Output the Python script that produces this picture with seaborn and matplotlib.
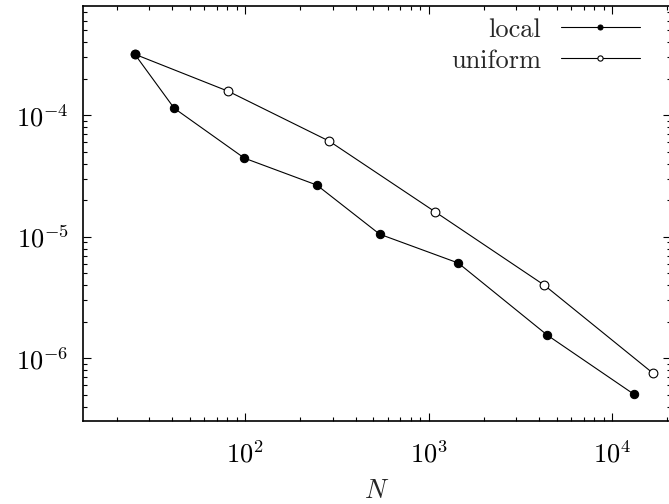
import matplotlib
matplotlib.use("Agg")
import matplotlib.pyplot as plt
import seaborn as sns
import pandas as pd
from matplotlib.ticker import LogLocator, NullFormatter

sns.set_style("ticks")
plt.rcParams.update({
    "font.family": "serif",
    "font.serif": ["cmr10", "DejaVu Serif"],
    "mathtext.fontset": "cm",
    "axes.formatter.use_mathtext": True,
    "axes.unicode_minus": False,
})

local_N = [25, 41, 99, 246, 541, 1452, 4446, 13120]
local_err = [3.17e-4, 1.14e-4, 4.43e-5, 2.66e-5, 1.05e-5, 6.08e-6, 1.55e-6, 5.09e-7]
uniform_N = [25, 81, 288, 1088, 4276, 16650]
uniform_err = [3.17e-4, 1.57e-4, 6.1e-5, 1.6e-5, 4.0e-6, 7.6e-7]

df_local = pd.DataFrame({"N": local_N, "err": local_err})
df_uni = pd.DataFrame({"N": uniform_N, "err": uniform_err})

fig = plt.figure(figsize=(6.69, 5.04), dpi=100)
ax = fig.add_axes([82.7/669, 1-420.7/504, (671-82.7)/669, (420.7-6)/504])

sns.lineplot(data=df_uni, x="N", y="err", ax=ax, sort=False, color="black",
             linewidth=0.8, marker="o", markersize=6.3, markerfacecolor="white",
             markeredgecolor="black", markeredgewidth=0.8, label="uniform")
sns.lineplot(data=df_local, x="N", y="err", ax=ax, sort=False, color="black",
             linewidth=0.8, marker="o", markersize=6, markerfacecolor="black",
             markeredgecolor="black", label="local")

ax.set_xscale("log")
ax.set_yscale("log")
ax.set_xlim(13, 21000)
ax.set_ylim(3.07e-7, 7.9e-4)

ax.xaxis.set_major_locator(LogLocator(base=10, numticks=10))
ax.xaxis.set_minor_locator(LogLocator(base=10, subs=range(2, 10), numticks=100))
ax.yaxis.set_major_locator(LogLocator(base=10, subs=[1.0], numticks=10))
ax.yaxis.set_minor_locator(LogLocator(base=10, subs=range(2, 10), numticks=100))
ax.xaxis.set_minor_formatter(NullFormatter())
ax.yaxis.set_minor_formatter(NullFormatter())
ax.set_yticks([1e-6, 1e-5, 1e-4])

ax.tick_params(which="both", direction="in", top=True, right=True, width=0.8,
               labelsize=19, colors="black")
ax.tick_params(axis="x", which="major", length=6, pad=14)
ax.tick_params(axis="y", which="major", length=6, pad=10)
ax.tick_params(which="minor", length=3)
for s in ax.spines.values():
    s.set_linewidth(1.2)
    s.set_color("black")

ax.set_xlabel("$N$", fontsize=19, labelpad=9)
ax.set_ylabel("")

handles, labels = ax.get_legend_handles_labels()
order = [labels.index("local"), labels.index("uniform")]
leg = ax.legend([handles[i] for i in order], [labels[i] for i in order],
                loc="upper right", frameon=False, markerfirst=False, fontsize=19,
                handlelength=3.0, markerscale=0.6, borderaxespad=0.0,
                bbox_to_anchor=(0.965, 0.997), labelspacing=0.28, handletextpad=0.75)

fig.savefig("out.png", dpi=100)
